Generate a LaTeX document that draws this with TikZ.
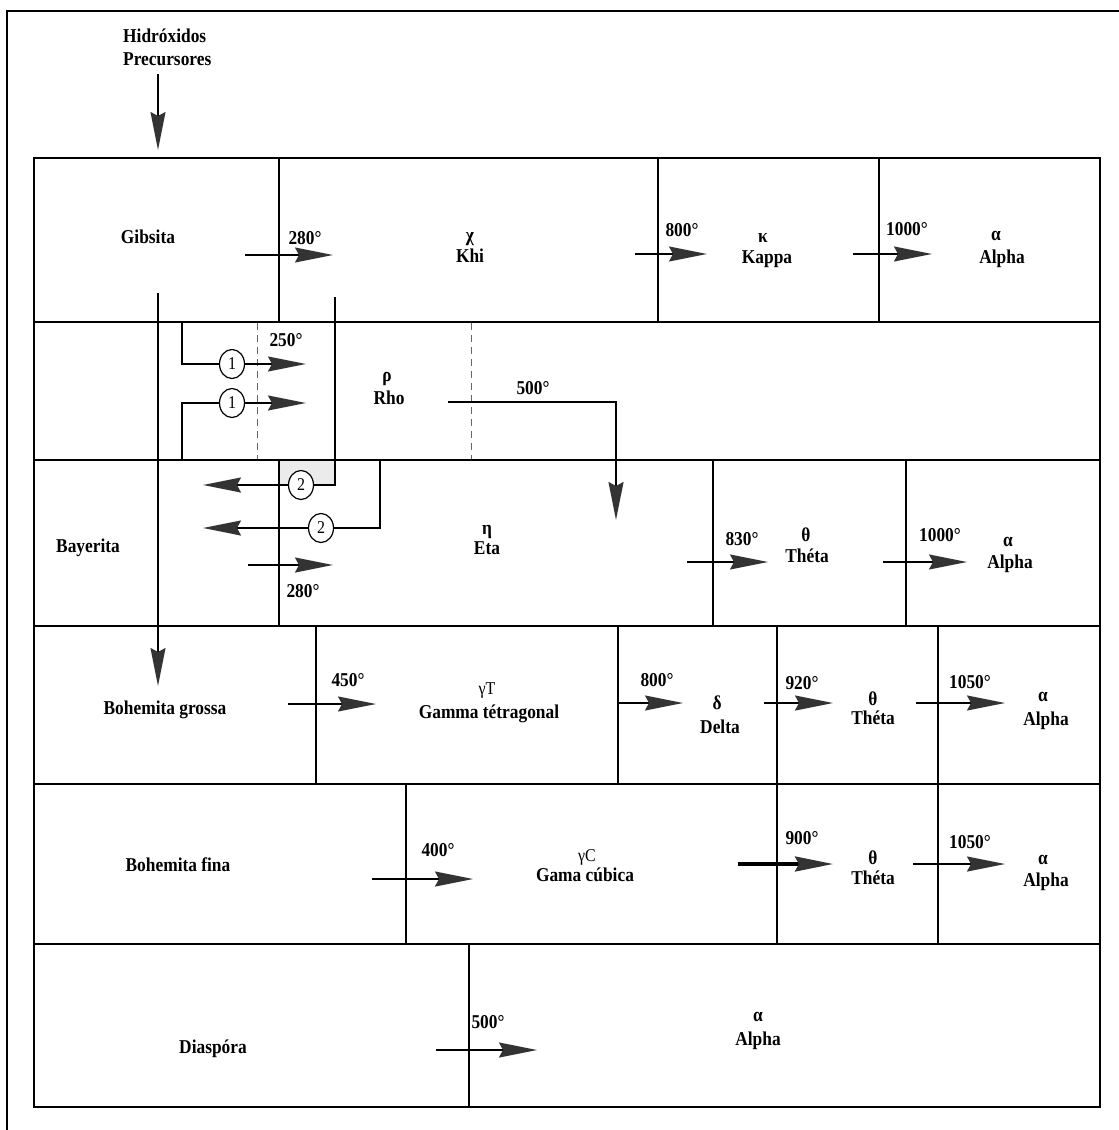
\documentclass[tikz,border=0pt]{standalone}
\usepackage{fontspec}
\setmainfont{Liberation Serif}[FakeStretch=0.886]
\usetikzlibrary{arrows.meta,shapes.geometric}
\newcommand{\harrow}[5][]{\coordinate (#2s) at (#3,#5); \coordinate (#2e) at (#4,#5); \draw[arr,#1] (#2s) -- (#2e);}
\begin{document}
\begin{tikzpicture}[x=1pt,y=-1pt,
  cell/.style={line width=1.6pt},
  arr/.style={line width=1.8pt,-{Stealth[length=38pt,width=15pt,inset=4pt,color=black!80]}},
  thinarr/.style={line width=1.3pt},
  thickarr/.style={line width=3.2pt},
  lbl/.style={font=\fontsize{19.6}{22}\selectfont\bfseries, inner sep=0pt, text height=13pt, text depth=4pt},
  reg/.style={font=\fontsize{18}{22}\selectfont, inner sep=0pt, text height=13pt, text depth=4pt},
  num/.style={draw, ellipse, fill=white, line width=1.2pt, minimum width=25pt, minimum height=29pt, inner sep=0pt, font=\fontsize{18}{20}\selectfont},
  dashline/.style={draw=black!60, line width=1pt, dash pattern=on 7pt off 5pt}
]
\useasboundingbox (0,0) rectangle (1119,1130);
\fill[white] (0,0) rectangle (1119,1130);
% outer frame
\draw[line width=1.5pt] (7,1130) -- (7,11) -- (1119,11);
% light gray patch
\fill[black!8] (279,460) rectangle (335,485);
% row 1
\draw[cell] (34,158) rectangle (279,322);
\draw[cell] (279,158) rectangle (658,322);
\draw[cell] (658,158) rectangle (879,322);
\draw[line width=2.4pt] (879,158) rectangle (1100,322);
% row 2
\draw[cell] (34,322) rectangle (335,460);
\draw[cell] (335,322) rectangle (1100,460);
\draw[dashline] (257,323) -- (257,459);
\draw[dashline] (471,323) -- (471,459);
% row 3
\draw[cell] (34,460) rectangle (279,626);
\draw[cell] (279,460) rectangle (713,626);
\draw[cell] (713,460) rectangle (906,626);
\draw[cell] (906,460) rectangle (1100,626);
% row 4
\draw[cell] (34,626) rectangle (316,784);
\draw[cell] (316,626) rectangle (618,784);
\draw[cell] (618,626) rectangle (777,784);
\draw[cell] (777,626) rectangle (938,784);
\draw[cell] (938,626) rectangle (1100,784);
% row 5
\draw[cell] (34,784) rectangle (406,944);
\draw[cell] (406,784) rectangle (777,944);
\draw[cell] (777,784) rectangle (938,944);
\draw[cell] (938,784) rectangle (1100,944);
% row 6
\draw[cell] (34,944) rectangle (469,1107);
\draw[cell] (469,944) rectangle (1100,1107);

% vertical and elbow connectors
\coordinate (h0) at (158,74); \coordinate (h1) at (158,150);
\draw[arr] (h0) -- (h1);
\coordinate (g0) at (158,293); \coordinate (g1) at (158,686);
\draw[arr] (g0) -- (g1);
\coordinate (r0) at (448,402); \coordinate (r1) at (616,402); \coordinate (r2) at (616,520);
\draw[arr] (r0) -- (r1) -- (r2);
\coordinate (p0) at (182,322); \coordinate (p1) at (182,364); \coordinate (p2) at (306,364);
\draw[arr] (p0) -- (p1) -- (p2);
\coordinate (q0) at (182,460); \coordinate (q1) at (182,403); \coordinate (q2) at (306,403);
\draw[arr] (q0) -- (q1) -- (q2);
\coordinate (u0) at (335,297); \coordinate (u1) at (335,485); \coordinate (u2) at (203,485);
\draw[arr] (u0) -- (u1) -- (u2);
\coordinate (v0) at (380,460); \coordinate (v1) at (380,528); \coordinate (v2) at (203,528);
\draw[arr] (v0) -- (v1) -- (v2);

% horizontal arrows
\harrow{a1}{245}{333}{255}
\harrow{a2}{635}{707}{254}
\harrow{a3}{853}{932}{254}
\harrow{a4}{248}{333}{565}
\harrow[thinarr]{a5}{687}{768}{562}
\harrow[thinarr]{a6}{883}{967}{562}
\harrow[thinarr]{a7}{288}{376}{704}
\harrow[thinarr]{a8}{618}{683}{703}
\harrow{a9}{764}{833}{703}
\harrow[thinarr]{a10}{916}{1005}{703}
\harrow{a11}{372}{473}{879}
\harrow[thickarr]{a12}{738}{833}{864}
\harrow{a13}{913}{1005}{864}
\harrow{a14}{436}{537}{1050}

% numbered circles
\node[num] (c1a) at (232,364) {1};
\node[num] (c1b) at (232,403) {1};
\node[num] (c2a) at (301,485) {2};
\node[num] (c2b) at (321,528) {2};

% labels
\node[lbl,anchor=west] (hid1) at (123,38) {Hidróxidos};
\node[lbl,anchor=west] (hid2) at (123,61) {Precursores};
% row 1
\node[lbl] (gib) at (148,239) {Gibsita};
\node[lbl] (t280a) at (305,240) {280°};
\node[lbl] (chig) at (470,237) {χ};
\node[lbl] (khi) at (470,258) {Khi};
\node[lbl] (t800a) at (682,232) {800°};
\node[lbl] (kapg) at (763,238) {κ};
\node[lbl] (kap) at (767,259) {Kappa};
\node[lbl] (t1000a) at (907,231) {1000°};
\node[lbl] (al1g) at (996,236) {α};
\node[lbl] (al1) at (1002,259) {Alpha};
% row 2
\node[lbl] (t250) at (286,342) {250°};
\node[lbl] (rhog) at (387,377) {ρ};
\node[lbl] (rho) at (389,400) {Rho};
\node[lbl] (t500a) at (533,390) {500°};
% row 3
\node[lbl] (bay) at (88,548) {Bayerita};
\node[lbl] (etag) at (487,530) {η};
\node[lbl] (eta) at (487,550) {Eta};
\node[lbl] (t280b) at (303,593) {280°};
\node[lbl] (t830) at (742,541) {830°};
\node[lbl] (th3g) at (806,537) {θ};
\node[lbl] (th3) at (807,558) {Théta};
\node[lbl] (t1000b) at (940,537) {1000°};
\node[lbl] (al3g) at (1008,542) {α};
\node[lbl] (al3) at (1010,564) {Alpha};
% row 4
\node[lbl] (bgro) at (165,710) {Bohemita grossa};
\node[lbl] (t450) at (348,682) {450°};
\node[reg] (gT) at (487,690) {γT};
\node[lbl] (gamT) at (489,714) {Gamma tétragonal};
\node[lbl] (t800b) at (657,682) {800°};
\node[lbl] (delg) at (717,705) {δ};
\node[lbl] (del) at (720,729) {Delta};
\node[lbl] (t920) at (802,685) {920°};
\node[lbl] (th4g) at (873,701) {θ};
\node[lbl] (th4) at (873,720) {Théta};
\node[lbl] (t1050a) at (970,684) {1050°};
\node[lbl] (al4g) at (1043,697) {α};
\node[lbl] (al4) at (1046,721) {Alpha};
% row 5
\node[lbl] (bfin) at (178,867) {Bohemita fina};
\node[lbl] (t400) at (438,852) {400°};
\node[reg] (gC) at (587,857) {γC};
\node[lbl] (gamC) at (585,877) {Gama cúbica};
\node[lbl] (t900) at (802,840) {900°};
\node[lbl] (th5g) at (873,860) {θ};
\node[lbl] (th5) at (873,880) {Théta};
\node[lbl] (t1050b) at (970,844) {1050°};
\node[lbl] (al5g) at (1043,860) {α};
\node[lbl] (al5) at (1046,882) {Alpha};
% row 6
\node[lbl] (dia) at (213,1049) {Diaspóra};
\node[lbl] (t500b) at (488,1024) {500°};
\node[lbl] (al6g) at (758,1017) {α};
\node[lbl] (al6) at (758,1041) {Alpha};
\end{tikzpicture}
\end{document}
